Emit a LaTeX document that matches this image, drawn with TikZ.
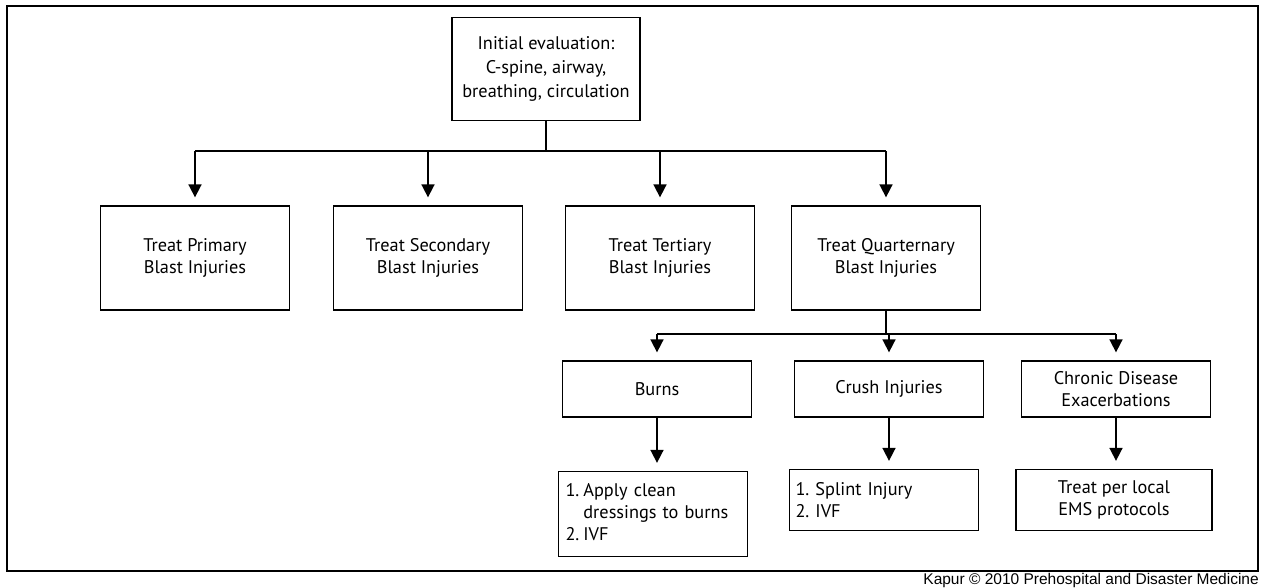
\documentclass[tikz,border=0pt]{standalone}
\usepackage{fontspec}
\setmainfont{PT Sans}
\newfontfamily\creditfont{Liberation Sans}
\usetikzlibrary{arrows.meta}
\frenchspacing
\begin{document}
\begin{tikzpicture}[x=1pt,y=-1pt,
  box/.style={draw, line width=1.3pt, minimum width=189pt, align=center, inner sep=0pt,
    font=\fontsize{18.3}{22}\selectfont},
  lbox/.style={box, align=left, text width=177pt, inner xsep=6pt},
  conn/.style={line width=1.7pt},
  arr/.style={conn, -{Triangle[width=13pt,length=13pt]}, shorten >=8pt}]
\useasboundingbox (0,0) rectangle (1262,587);
\draw[line width=1.8pt] (7,6) rectangle (1258,571);

\node[box, minimum width=188pt, minimum height=103pt, font=\fontsize{18.3}{24}\selectfont] (top) at (546,69)
  {Initial evaluation:\\C-spine, airway,\\breathing, circulation};

\node[box, minimum height=104pt] (prim) at (195,258) {Treat Primary\\Blast Injuries};
\node[box, minimum height=104pt] (sec)  at (428,258) {Treat Secondary\\Blast Injuries};
\node[box, minimum height=104pt] (ter)  at (660,258) {Treat Tertiary\\Blast Injuries};
\node[box, minimum height=104pt] (quar) at (886,258) {Treat Quarternary\\Blast Injuries};

\node[box, minimum height=56pt] (burns) at (657,389) {Burns};
\node[box, minimum height=56pt] (crush) at (889,389) {Crush Injuries};
\node[box, minimum height=56pt] (chron) at (1116,389) {Chronic Disease\\Exacerbations};

\node[lbox, minimum height=85pt, inner xsep=7pt, text width=175pt] (apply) at (653,514)
  {\begin{tabular}{@{}l@{\hspace{4pt}}l@{}}1.&Apply clean\\&dressings to burns\\2.&IVF\end{tabular}};
\node[lbox, minimum height=61pt] (splint) at (884,500)
  {1. Splint Injury\\2. IVF};
\node[box, minimum height=61pt, minimum width=196pt] (local) at (1114,500)
  {Treat per local\\EMS protocols};

\node[anchor=base east, inner sep=0pt, font=\creditfont\fontsize{15.5}{16}\selectfont] (credit) at (1259,584)
  {Kapur © 2010 Prehospital and Disaster Medicine};

\coordinate (bar) at (546,151);
\draw[conn] (top.south) -- (top.south |- bar);
\draw[conn] (prim.north |- bar) -- (quar.north |- bar);
\foreach \n in {prim,sec,ter,quar} \draw[arr] (\n.north |- bar) -- (\n.north);

\coordinate (bar2) at (886,334);
\draw[conn] (quar.south) -- (quar.south |- bar2);
\draw[conn] (burns.north |- bar2) -- (chron.north |- bar2);
\foreach \n in {burns,crush,chron} \draw[arr] (\n.north |- bar2) -- (\n.north);

\draw[arr] (burns.south) -- (burns.south |- apply.north);
\draw[arr] (crush.south) -- (crush.south |- splint.north);
\draw[arr] (chron.south) -- (chron.south |- local.north);
\end{tikzpicture}
\end{document}
